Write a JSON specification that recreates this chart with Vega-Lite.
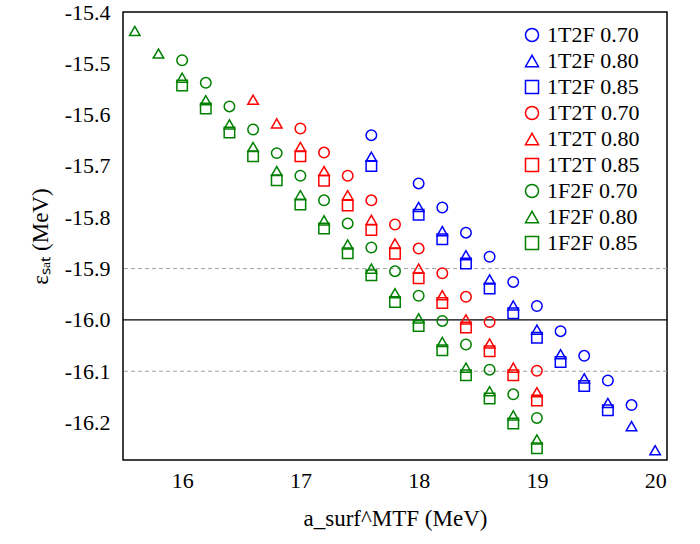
{
  "$schema": "https://vega.github.io/schema/vega-lite/v6.json",
  "width": 544,
  "height": 448,
  "autosize": {"type": "none"},
  "padding": {"left": 123, "top": 12, "right": 33, "bottom": 84},
  "background": "white",
  "config": {
    "view": {"stroke": "black", "strokeWidth": 1.5},
    "font": "Liberation Serif",
    "axis": {
      "domain": false,
      "grid": false,
      "labelFont": "Liberation Serif",
      "labelFontSize": 22,
      "labelColor": "black",
      "labelOverlap": false,
      "labelFlush": false,
      "labelBound": false,
      "tickColor": "black",
      "tickWidth": 1.5,
      "tickSize": 0,
      "titleFont": "Liberation Serif",
      "titleFontSize": 23,
      "titleFontWeight": "normal",
      "titleColor": "black"
    },
    "legend": {
      "labelFont": "Liberation Serif",
      "labelFontSize": 22,
      "labelColor": "black",
      "symbolStrokeWidth": 1.5,
      "symbolSize": 170,
      "rowPadding": 4,
      "labelOffset": 4,
      "padding": 0
    }
  },
  "datasets": {
    "dash": [{"y": -15.9}, {"y": -16.1}],
    "zero": [{"y": -16.0}],
    "pts": [
      {"series": "1T2F 0.70", "x": 17.6, "y": -15.640},
      {"series": "1T2F 0.70", "x": 18.0, "y": -15.734},
      {"series": "1T2F 0.70", "x": 18.2, "y": -15.781},
      {"series": "1T2F 0.70", "x": 18.4, "y": -15.830},
      {"series": "1T2F 0.70", "x": 18.6, "y": -15.877},
      {"series": "1T2F 0.70", "x": 18.8, "y": -15.926},
      {"series": "1T2F 0.70", "x": 19.0, "y": -15.973},
      {"series": "1T2F 0.70", "x": 19.2, "y": -16.022},
      {"series": "1T2F 0.70", "x": 19.4, "y": -16.070},
      {"series": "1T2F 0.70", "x": 19.6, "y": -16.118},
      {"series": "1T2F 0.70", "x": 19.8, "y": -16.166},
      {"series": "1T2F 0.80", "x": 17.6, "y": -15.682},
      {"series": "1T2F 0.80", "x": 18.0, "y": -15.780},
      {"series": "1T2F 0.80", "x": 18.2, "y": -15.827},
      {"series": "1T2F 0.80", "x": 18.4, "y": -15.874},
      {"series": "1T2F 0.80", "x": 18.6, "y": -15.921},
      {"series": "1T2F 0.80", "x": 18.8, "y": -15.972},
      {"series": "1T2F 0.80", "x": 19.0, "y": -16.019},
      {"series": "1T2F 0.80", "x": 19.2, "y": -16.067},
      {"series": "1T2F 0.80", "x": 19.4, "y": -16.114},
      {"series": "1T2F 0.80", "x": 19.6, "y": -16.162},
      {"series": "1T2F 0.80", "x": 19.8, "y": -16.207},
      {"series": "1T2F 0.80", "x": 20.0, "y": -16.254},
      {"series": "1T2F 0.85", "x": 17.6, "y": -15.700},
      {"series": "1T2F 0.85", "x": 18.0, "y": -15.795},
      {"series": "1T2F 0.85", "x": 18.2, "y": -15.843},
      {"series": "1T2F 0.85", "x": 18.4, "y": -15.890},
      {"series": "1T2F 0.85", "x": 18.6, "y": -15.939},
      {"series": "1T2F 0.85", "x": 18.8, "y": -15.987},
      {"series": "1T2F 0.85", "x": 19.0, "y": -16.035},
      {"series": "1T2F 0.85", "x": 19.2, "y": -16.082},
      {"series": "1T2F 0.85", "x": 19.4, "y": -16.129},
      {"series": "1T2F 0.85", "x": 19.6, "y": -16.176},
      {"series": "1T2T 0.70", "x": 17.0, "y": -15.627},
      {"series": "1T2T 0.70", "x": 17.2, "y": -15.674},
      {"series": "1T2T 0.70", "x": 17.4, "y": -15.719},
      {"series": "1T2T 0.70", "x": 17.6, "y": -15.767},
      {"series": "1T2T 0.70", "x": 17.8, "y": -15.814},
      {"series": "1T2T 0.70", "x": 18.0, "y": -15.861},
      {"series": "1T2T 0.70", "x": 18.2, "y": -15.909},
      {"series": "1T2T 0.70", "x": 18.4, "y": -15.955},
      {"series": "1T2T 0.70", "x": 18.6, "y": -16.004},
      {"series": "1T2T 0.70", "x": 19.0, "y": -16.099},
      {"series": "1T2T 0.80", "x": 16.6, "y": -15.571},
      {"series": "1T2T 0.80", "x": 16.8, "y": -15.617},
      {"series": "1T2T 0.80", "x": 17.0, "y": -15.663},
      {"series": "1T2T 0.80", "x": 17.2, "y": -15.710},
      {"series": "1T2T 0.80", "x": 17.4, "y": -15.757},
      {"series": "1T2T 0.80", "x": 17.6, "y": -15.805},
      {"series": "1T2T 0.80", "x": 17.8, "y": -15.851},
      {"series": "1T2T 0.80", "x": 18.0, "y": -15.900},
      {"series": "1T2T 0.80", "x": 18.2, "y": -15.952},
      {"series": "1T2T 0.80", "x": 18.4, "y": -15.999},
      {"series": "1T2T 0.80", "x": 18.6, "y": -16.046},
      {"series": "1T2T 0.80", "x": 18.8, "y": -16.093},
      {"series": "1T2T 0.80", "x": 19.0, "y": -16.141},
      {"series": "1T2T 0.85", "x": 17.0, "y": -15.681},
      {"series": "1T2T 0.85", "x": 17.2, "y": -15.729},
      {"series": "1T2T 0.85", "x": 17.4, "y": -15.777},
      {"series": "1T2T 0.85", "x": 17.6, "y": -15.825},
      {"series": "1T2T 0.85", "x": 17.8, "y": -15.871},
      {"series": "1T2T 0.85", "x": 18.0, "y": -15.919},
      {"series": "1T2T 0.85", "x": 18.2, "y": -15.967},
      {"series": "1T2T 0.85", "x": 18.4, "y": -16.015},
      {"series": "1T2T 0.85", "x": 18.6, "y": -16.061},
      {"series": "1T2T 0.85", "x": 18.8, "y": -16.108},
      {"series": "1T2T 0.85", "x": 19.0, "y": -16.157},
      {"series": "1F2F 0.70", "x": 16.0, "y": -15.494},
      {"series": "1F2F 0.70", "x": 16.2, "y": -15.538},
      {"series": "1F2F 0.70", "x": 16.4, "y": -15.584},
      {"series": "1F2F 0.70", "x": 16.6, "y": -15.629},
      {"series": "1F2F 0.70", "x": 16.8, "y": -15.675},
      {"series": "1F2F 0.70", "x": 17.0, "y": -15.719},
      {"series": "1F2F 0.70", "x": 17.2, "y": -15.767},
      {"series": "1F2F 0.70", "x": 17.4, "y": -15.812},
      {"series": "1F2F 0.70", "x": 17.6, "y": -15.859},
      {"series": "1F2F 0.70", "x": 17.8, "y": -15.905},
      {"series": "1F2F 0.70", "x": 18.0, "y": -15.953},
      {"series": "1F2F 0.70", "x": 18.2, "y": -16.002},
      {"series": "1F2F 0.70", "x": 18.4, "y": -16.048},
      {"series": "1F2F 0.70", "x": 18.6, "y": -16.097},
      {"series": "1F2F 0.70", "x": 18.8, "y": -16.145},
      {"series": "1F2F 0.70", "x": 19.0, "y": -16.191},
      {"series": "1F2F 0.80", "x": 15.6, "y": -15.437},
      {"series": "1F2F 0.80", "x": 15.8, "y": -15.481},
      {"series": "1F2F 0.80", "x": 16.0, "y": -15.528},
      {"series": "1F2F 0.80", "x": 16.2, "y": -15.572},
      {"series": "1F2F 0.80", "x": 16.4, "y": -15.619},
      {"series": "1F2F 0.80", "x": 16.6, "y": -15.663},
      {"series": "1F2F 0.80", "x": 16.8, "y": -15.710},
      {"series": "1F2F 0.80", "x": 17.0, "y": -15.757},
      {"series": "1F2F 0.80", "x": 17.2, "y": -15.806},
      {"series": "1F2F 0.80", "x": 17.4, "y": -15.853},
      {"series": "1F2F 0.80", "x": 17.6, "y": -15.900},
      {"series": "1F2F 0.80", "x": 17.8, "y": -15.948},
      {"series": "1F2F 0.80", "x": 18.0, "y": -15.997},
      {"series": "1F2F 0.80", "x": 18.2, "y": -16.043},
      {"series": "1F2F 0.80", "x": 18.4, "y": -16.093},
      {"series": "1F2F 0.80", "x": 18.6, "y": -16.139},
      {"series": "1F2F 0.80", "x": 18.8, "y": -16.186},
      {"series": "1F2F 0.80", "x": 19.0, "y": -16.233},
      {"series": "1F2F 0.85", "x": 16.0, "y": -15.543},
      {"series": "1F2F 0.85", "x": 16.2, "y": -15.588},
      {"series": "1F2F 0.85", "x": 16.4, "y": -15.635},
      {"series": "1F2F 0.85", "x": 16.6, "y": -15.681},
      {"series": "1F2F 0.85", "x": 16.8, "y": -15.728},
      {"series": "1F2F 0.85", "x": 17.0, "y": -15.775},
      {"series": "1F2F 0.85", "x": 17.2, "y": -15.822},
      {"series": "1F2F 0.85", "x": 17.4, "y": -15.870},
      {"series": "1F2F 0.85", "x": 17.6, "y": -15.913},
      {"series": "1F2F 0.85", "x": 17.8, "y": -15.965},
      {"series": "1F2F 0.85", "x": 18.0, "y": -16.012},
      {"series": "1F2F 0.85", "x": 18.2, "y": -16.059},
      {"series": "1F2F 0.85", "x": 18.4, "y": -16.108},
      {"series": "1F2F 0.85", "x": 18.6, "y": -16.153},
      {"series": "1F2F 0.85", "x": 18.8, "y": -16.202},
      {"series": "1F2F 0.85", "x": 19.0, "y": -16.250}
    ]
  },
  "layer": [
    {
      "data": {"name": "dash"},
      "mark": {"type": "rule", "color": "#a0a0a0", "strokeWidth": 1, "strokeDash": [4, 3]},
      "encoding": {
        "y": {"field": "y", "type": "quantitative", "scale": {"domain": [-16.273, -15.4], "nice": false, "zero": false}, "axis": null}
      }
    },
    {
      "data": {"name": "zero"},
      "mark": {"type": "rule", "color": "black", "strokeWidth": 1.2},
      "encoding": {
        "y": {"field": "y", "type": "quantitative", "scale": {"domain": [-16.273, -15.4], "nice": false, "zero": false}, "axis": null}
      }
    },
    {
      "data": {"name": "pts"},
      "mark": {"type": "point", "filled": false, "strokeWidth": 1.5, "size": 110, "opacity": 1},
      "encoding": {
        "x": {
          "field": "x", "type": "quantitative",
          "scale": {"domain": [15.5, 20.1], "nice": false, "zero": false},
          "axis": {
            "orient": "bottom",
            "values": [16, 16.5, 17, 17.5, 18, 18.5, 19, 19.5, 20],
            "encode": {"ticks": {"update": {"y2": {"signal": "abs(datum.value - round(datum.value)) < 0.001 ? -10 : -6"}}}},
            "labelExpr": "abs(datum.value - round(datum.value)) < 0.001 ? format(datum.value, 'd') : ''",
            "labelPadding": 10,
            "title": "a_surf^MTF (MeV)",
            "titlePadding": 16
          }
        },
        "y": {
          "field": "y", "type": "quantitative",
          "scale": {"domain": [-16.273, -15.4], "nice": false, "zero": false},
          "axis": {
            "orient": "left",
            "values": [-16.25, -16.2, -16.15, -16.1, -16.05, -16.0, -15.95, -15.9, -15.85, -15.8, -15.75, -15.7, -15.65, -15.6, -15.55, -15.5, -15.45, -15.4],
            "encode": {"ticks": {"update": {"x2": {"signal": "abs(datum.value*10 - round(datum.value*10)) < 0.001 ? 9 : 5"}}}},
            "labelExpr": "abs(datum.value*10 - round(datum.value*10)) < 0.001 ? (datum.value < 0 ? '-' : '') + format(abs(datum.value), '.1f') : ''",
            "labelPadding": 13,
            "title": "εₛₐₜ (MeV)",
            "titlePadding": 12
          }
        },
        "color": {
          "field": "series", "type": "nominal",
          "scale": {
            "domain": ["1T2F 0.70", "1T2F 0.80", "1T2F 0.85", "1T2T 0.70", "1T2T 0.80", "1T2T 0.85", "1F2F 0.70", "1F2F 0.80", "1F2F 0.85"],
            "range": ["#0000ff", "#0000ff", "#0000ff", "#ff0000", "#ff0000", "#ff0000", "#008000", "#008000", "#008000"]
          },
          "legend": {"orient": "none", "legendX": 398, "legendY": 12, "title": null}
        },
        "shape": {
          "field": "series", "type": "nominal",
          "scale": {
            "domain": ["1T2F 0.70", "1T2F 0.80", "1T2F 0.85", "1T2T 0.70", "1T2T 0.80", "1T2T 0.85", "1F2F 0.70", "1F2F 0.80", "1F2F 0.85"],
            "range": ["circle", "triangle-up", "square", "circle", "triangle-up", "square", "circle", "triangle-up", "square"]
          },
          "legend": {"orient": "none", "legendX": 398, "legendY": 12, "title": null}
        }
      }
    },
    {
      "data": {"name": "pts"},
      "mark": {"type": "point", "opacity": 0},
      "encoding": {
        "x": {
          "field": "x", "type": "quantitative",
          "scale": {"domain": [15.5, 20.1], "nice": false, "zero": false},
          "axis": {
            "orient": "top",
            "values": [16, 16.5, 17, 17.5, 18, 18.5, 19, 19.5, 20],
            "encode": {"ticks": {"update": {"y2": {"signal": "abs(datum.value - round(datum.value)) < 0.001 ? 10 : 6"}}}},
            "labels": false,
            "title": null
          }
        },
        "y": {
          "field": "y", "type": "quantitative",
          "scale": {"domain": [-16.273, -15.4], "nice": false, "zero": false},
          "axis": {
            "orient": "right",
            "values": [-16.25, -16.2, -16.15, -16.1, -16.05, -16.0, -15.95, -15.9, -15.85, -15.8, -15.75, -15.7, -15.65, -15.6, -15.55, -15.5, -15.45, -15.4],
            "encode": {"ticks": {"update": {"x2": {"signal": "abs(datum.value*10 - round(datum.value*10)) < 0.001 ? -9 : -5"}}}},
            "labels": false,
            "title": null
          }
        }
      }
    }
  ],
  "resolve": {"axis": {"x": "independent", "y": "independent"}}
}
